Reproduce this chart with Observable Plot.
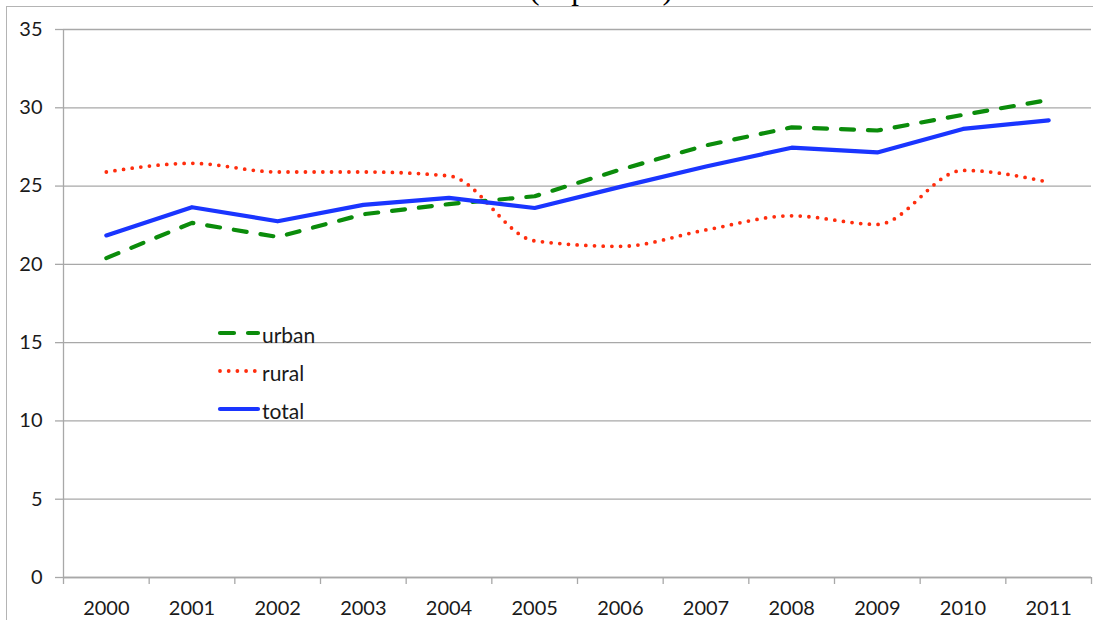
<!DOCTYPE html>
<html>
<head>
<meta charset="utf-8">
<script src="https://cdn.jsdelivr.net/npm/d3@7"></script>
<script src="https://cdn.jsdelivr.net/npm/@observablehq/plot@0.6"></script>
<style>
  body { margin: 0; background: #fff; }
  #wrap { position: relative; width: 1093px; height: 620px; overflow: hidden; background: #fff; }
  #frame { position: absolute; left: 6px; top: 6px; width: 1300px; height: 900px;
           border-left: 1.5px solid #b4b4b4; border-top: 1.5px solid #b4b4b4; }
  #chart, #legend, #title { position: absolute; left: 0; top: 0; }
  #title { overflow: hidden; }
</style>
</head>
<body>
<div id="wrap">
  <svg id="title" width="1093" height="7"></svg>
  <div id="frame"></div>
  <div id="chart"></div>
  <svg id="legend" width="1093" height="620"></svg>
</div>
<script>
// ---- data ----
const years = [2000, 2001, 2002, 2003, 2004, 2005, 2006, 2007, 2008, 2009, 2010, 2011];
const urban = [20.4, 22.65, 21.75, 23.2, 23.85, 24.35, 26.05, 27.6, 28.75, 28.55, 29.55, 30.5];
const rural = [25.9, 26.45, 25.9, 25.9, 25.65, 21.5, 21.15, 22.2, 23.1, 22.55, 26.0, 25.25];
const total = [21.85, 23.65, 22.75, 23.8, 24.25, 23.6, 24.95, 26.25, 27.45, 27.15, 28.65, 29.2];
const yTicks = [0, 5, 10, 15, 20, 25, 30, 35];
const seriesNames = ["urban", "rural", "total"];
const seriesColors = ["#0b8c0b", "#ff2d0d", "#1a35ff"];
const titleText = "(in percent)";

const font = "Lato, 'Open Sans', sans-serif";
const gridColor = "#a8a8a8";
const seriesValues = {urban, rural, total};
const rows = name => years.map((yr, i) => ({year: yr, value: seriesValues[name][i], series: name}));
const boundaries = years.map(y => y - 0.5).concat([years[years.length - 1] + 0.5]);

const styleFor = {
  urban: {strokeWidth: 4.2, strokeDasharray: "13 14", strokeLinecap: "round", strokeLinejoin: "round"},
  rural: {strokeWidth: 3.8, strokeDasharray: "0 8.7", strokeLinecap: "round", strokeLinejoin: "round", curve: "monotone-x"},
  total: {strokeWidth: 4.2, strokeLinecap: "round", strokeLinejoin: "round"}
};

const chart = Plot.plot({
  width: 1093,
  height: 620,
  marginLeft: 63,
  marginRight: 2,
  marginTop: 29,
  marginBottom: 43,
  style: {fontFamily: font, fontSize: "20px", color: "#1a1a1a", background: "transparent", overflow: "visible"},
  x: {domain: [boundaries[0], boundaries[boundaries.length - 1]]},
  y: {domain: [0, 35]},
  marks: [
    Plot.gridY(yTicks, {stroke: gridColor, strokeOpacity: 1, strokeWidth: 1.3}),
    Plot.ruleX([boundaries[0]], {stroke: gridColor, strokeWidth: 1.3}),
    Plot.ruleY([0], {stroke: gridColor, strokeWidth: 1.3}),
    Plot.axisY(yTicks, {tickSize: 8, tickPadding: 13, stroke: gridColor, strokeWidth: 1.3, fill: "#1a1a1a", label: null, fontSize: 20}),
    Plot.axisX(boundaries, {tickSize: 7, stroke: gridColor, strokeWidth: 1.3, tickFormat: () => "", label: null}),
    Plot.axisX(years, {tickSize: 0, tickPadding: 23, tickFormat: d => String(d), fill: "#1a1a1a", label: null, fontSize: 20}),
    ...seriesNames.map((name, k) =>
      Plot.line(rows(name), {x: "year", y: "value", stroke: seriesColors[k], ...styleFor[name]})
    )
  ]
});
document.getElementById("chart").appendChild(chart);

// ---- legend ----
const leg = d3.select("#legend");
seriesNames.forEach((name, k) => {
  const y = 333 + k * 38;
  const s = styleFor[name];
  leg.append("line")
    .attr("x1", 220).attr("x2", 258).attr("y1", y).attr("y2", y)
    .attr("stroke", seriesColors[k])
    .attr("stroke-width", s.strokeWidth)
    .attr("stroke-linecap", "round")
    .attr("stroke-dasharray", name === "urban" ? "14 14" : (s.strokeDasharray || null));
  leg.append("text")
    .attr("x", 262).attr("y", y + 9.5)
    .attr("font-family", font).attr("font-size", 21).attr("fill", "#1a1a1a")
    .text(name);
});

// ---- title (clipped at the top edge, as in the reference) ----
d3.select("#title").append("text")
  .attr("x", 601).attr("y", -1)
  .attr("text-anchor", "middle")
  .attr("font-family", "'Liberation Serif', 'DejaVu Serif', serif")
  .attr("font-size", 31).attr("fill", "#000")
  .text(titleText);
</script>
</body>
</html>
